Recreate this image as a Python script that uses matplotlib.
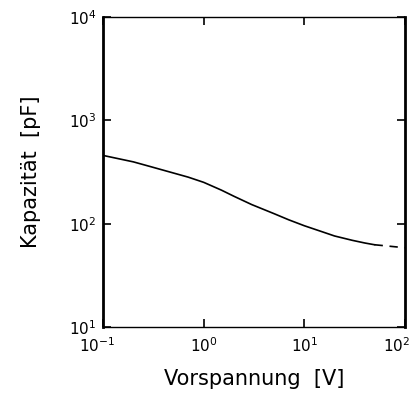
import numpy as np
import matplotlib
matplotlib.use('Agg')
import matplotlib.pyplot as plt
from matplotlib.ticker import FixedLocator, NullLocator
import matplotlib.transforms as mtransforms

# values (V, pF)
voltage = [0.1, 0.2, 0.3, 0.5, 0.7, 1, 1.5, 2, 3, 5, 7, 10, 15, 20, 30, 40, 50]
capacitance = [457, 396, 355, 309, 282, 251, 211, 184, 153, 125, 109, 95.5, 83.6, 76, 69, 65, 62.5]
# dashed tail towards 100 V
voltage_tail = [50, 100]
capacitance_tail = [62.5, 58.5]

xticks = [0.1, 1, 10, 100]
xlabels = [r'$10^{-1}$', r'$10^{0}$', r'$10^{1}$', r'$10^{2}$']
yticks = [10, 100, 1000, 10000]
ylabels = [r'$10^{1}$', r'$10^{2}$', r'$10^{3}$', r'$10^{4}$']

fig = plt.figure(figsize=(4.11, 3.94), dpi=100)
ax = fig.add_axes([0.251, 0.170, 0.734, 0.787])

ax.plot(voltage, capacitance, color='black', lw=1.2)
ax.plot(voltage_tail, capacitance_tail, color='black', lw=1.2, linestyle=(0, (5, 4)))

ax.set_xscale('log')
ax.set_yscale('log')
ax.set_xlim(0.1, 100)
ax.set_ylim(10, 10000)

ax.xaxis.set_major_locator(FixedLocator(xticks))
ax.set_xticklabels(xlabels, fontsize=11)
ax.yaxis.set_major_locator(FixedLocator(yticks))
ax.set_yticklabels(ylabels, fontsize=11)
ax.xaxis.set_minor_locator(NullLocator())
ax.yaxis.set_minor_locator(NullLocator())
ax.tick_params(direction='in', length=6, width=1.2, top=True, right=True)
ax.tick_params(axis='x', pad=7)
ax.tick_params(axis='y', pad=5)

# keep the outer x labels inside the picture, as in the scan
xt = ax.get_xticklabels()
xt[-1].set_transform(xt[-1].get_transform() + mtransforms.ScaledTranslation(-8/100, 0, fig.dpi_scale_trans))
xt[0].set_transform(xt[0].get_transform() + mtransforms.ScaledTranslation(-6/100, 0, fig.dpi_scale_trans))

for side in ['top', 'bottom']:
    ax.spines[side].set_linewidth(1.0)
for side in ['left', 'right']:
    ax.spines[side].set_linewidth(2.0)

ax.set_xlabel('Vorspannung  [V]', fontsize=15, labelpad=10)
ax.set_ylabel('Kapazität  [pF]', fontsize=15, labelpad=20)

plt.savefig('out.png', dpi=100)
